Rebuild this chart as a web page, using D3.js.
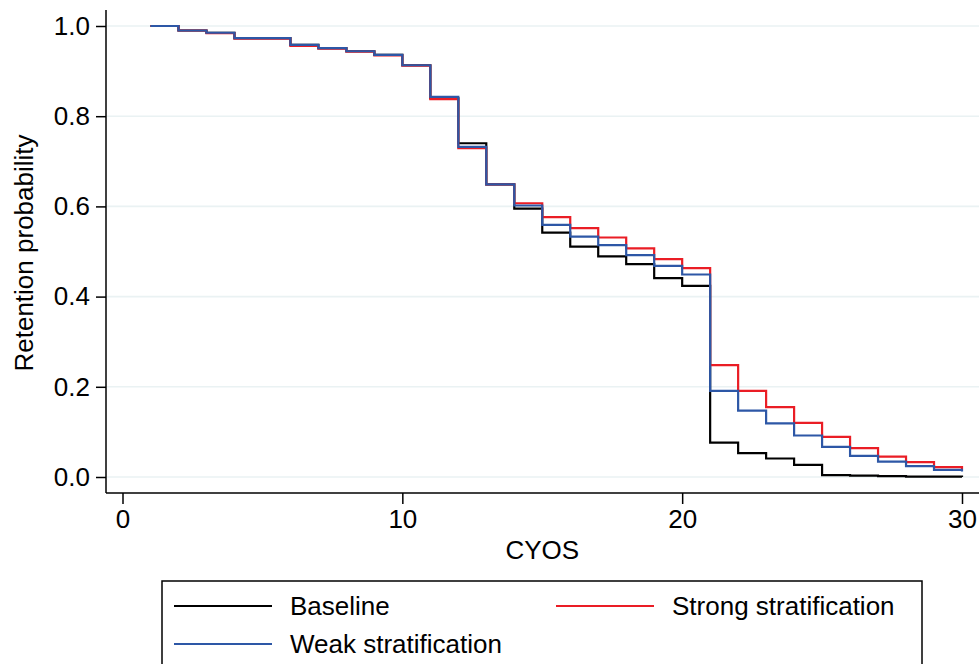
<!DOCTYPE html>
<html>
<head>
<meta charset="utf-8">
<script src="https://cdn.jsdelivr.net/npm/d3@7"></script>
<style>
  html, body { margin: 0; padding: 0; background: #fff; }
  svg { display: block; font-family: "Liberation Sans", Arial, Helvetica, sans-serif; }
</style>
</head>
<body>
<svg id="chart" width="979" height="664"></svg>
<script>
// Completed years of service (step starts)
const cyos = [1,2,3,4,5,6,7,8,9,10,11,12,13,14,15,16,17,18,19,20,21,22,23,24,25,26,27,28,29,30];

// Retention probability by scenario
const baseline = [1.000,0.990,0.985,0.973,0.973,0.958,0.951,0.944,0.936,0.913,0.840,0.740,0.649,0.595,0.542,0.511,0.489,0.472,0.441,0.424,0.076,0.053,0.041,0.027,0.004,0.003,0.002,0.001,0.001,0.000];
const strong   = [1.000,0.990,0.984,0.972,0.972,0.956,0.950,0.943,0.935,0.912,0.838,0.729,0.649,0.607,0.576,0.552,0.531,0.507,0.483,0.463,0.248,0.191,0.155,0.120,0.089,0.064,0.045,0.033,0.022,0.018];
const weak     = [1.000,0.990,0.985,0.973,0.973,0.958,0.951,0.944,0.936,0.913,0.843,0.732,0.649,0.602,0.559,0.533,0.514,0.492,0.468,0.449,0.191,0.147,0.119,0.092,0.067,0.047,0.034,0.024,0.016,0.012];

// Axis ticks
const xTicks = [0, 10, 20, 30];
const yTicks = [0, 0.2, 0.4, 0.6, 0.8, 1.0];
const yTickLabels = ["0.0", "0.2", "0.4", "0.6", "0.8", "1.0"];

const seriesNames  = ["Baseline", "Strong stratification", "Weak stratification"];
const seriesColors = ["#000000", "#ea1d25", "#2d57a6"];
const seriesValues = [baseline, strong, weak];

const svg = d3.select("#chart");
const FONT = 26;

const x = d3.scaleLinear().domain([0, 30]).range([122.5, 962]);
const y = d3.scaleLinear().domain([0, 1]).range([477, 26]);

const axisX = 106;     // position of the vertical axis line
const axisY = 493;     // position of the horizontal axis line

// Gridlines
svg.append("g")
  .selectAll("line")
  .data(yTicks)
  .join("line")
  .attr("x1", axisX + 1).attr("x2", 979)
  .attr("y1", d => y(d)).attr("y2", d => y(d))
  .attr("stroke", "#eaf2f3")
  .attr("stroke-width", 1.6);

// Step curves
const line = d3.line()
  .x(d => x(d[0]))
  .y(d => y(d[1]))
  .curve(d3.curveStepAfter);

svg.append("g")
  .selectAll("path")
  .data(seriesValues)
  .join("path")
  .attr("d", vals => line(cyos.map((c, i) => [c, vals[i]])))
  .attr("fill", "none")
  .attr("stroke", (d, i) => seriesColors[i])
  .attr("stroke-width", 2.2);

// Y axis
const gy = svg.append("g")
  .attr("transform", `translate(${axisX},0)`)
  .call(d3.axisLeft(y).tickValues(yTicks)
        .tickFormat((d, i) => yTickLabels[i])
        .tickSize(10).tickSizeOuter(0).tickPadding(6));
gy.select(".domain").remove();
gy.selectAll(".tick line").attr("stroke", "#000").attr("stroke-width", 1.5);
gy.selectAll(".tick text").attr("font-size", FONT).attr("fill", "#000");
gy.attr("font-family", null);

svg.append("line")
  .attr("x1", axisX).attr("x2", axisX)
  .attr("y1", 10).attr("y2", axisY)
  .attr("stroke", "#000").attr("stroke-width", 1.5);

// X axis
const gx = svg.append("g")
  .attr("transform", `translate(0,${axisY})`)
  .call(d3.axisBottom(x).tickValues(xTicks)
        .tickFormat(d3.format("d"))
        .tickSize(11).tickSizeOuter(0).tickPadding(6));
gx.select(".domain").remove();
gx.selectAll(".tick line").attr("stroke", "#000").attr("stroke-width", 1.5);
gx.selectAll(".tick text").attr("font-size", FONT).attr("fill", "#000");
gx.attr("font-family", null);

svg.append("line")
  .attr("x1", axisX).attr("x2", 979)
  .attr("y1", axisY).attr("y2", axisY)
  .attr("stroke", "#000").attr("stroke-width", 1.5);

// Axis titles
svg.append("text")
  .attr("x", x(15)).attr("y", 559)
  .attr("text-anchor", "middle")
  .attr("font-size", FONT)
  .text("CYOS");

svg.append("text")
  .attr("transform", "translate(33,253) rotate(-90)")
  .attr("text-anchor", "middle")
  .attr("font-size", FONT)
  .text("Retention probability");

// Legend
const legend = svg.append("g");
legend.append("rect")
  .attr("x", 162).attr("y", 581)
  .attr("width", 760).attr("height", 110)
  .attr("fill", "#fff").attr("stroke", "#000").attr("stroke-width", 1.5);

const legendPos = [
  { lx: 174, ty: 606 },
  { lx: 556, ty: 606 },
  { lx: 174, ty: 644 }
];

const items = legend.selectAll("g.item")
  .data(seriesNames)
  .join("g")
  .attr("class", "item")
  .attr("transform", (d, i) => `translate(${legendPos[i].lx},${legendPos[i].ty})`);

items.append("line")
  .attr("x1", 0).attr("x2", 98)
  .attr("y1", 0).attr("y2", 0)
  .attr("stroke", (d, i) => seriesColors[i])
  .attr("stroke-width", 2.2);

items.append("text")
  .attr("x", 116).attr("y", 0)
  .attr("dy", "0.36em")
  .attr("font-size", FONT)
  .text(d => d);
</script>
</body>
</html>
